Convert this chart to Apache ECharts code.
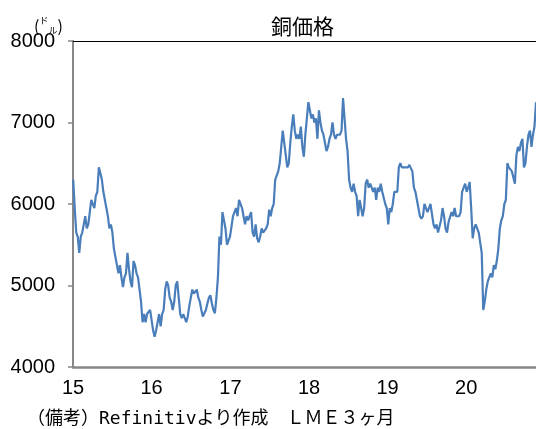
<!DOCTYPE html>
<html>
<head>
<meta charset="utf-8">
<script src="https://cdn.jsdelivr.net/npm/echarts@6/dist/echarts.min.js"></script>
<style>
  html, body { margin: 0; padding: 0; background: #fff; }
  #chart { width: 536px; height: 429px; }
</style>
</head>
<body>
<div id="chart"></div>
<script>
// LME copper 3M, weekly readings (USD/t)
const start2015 = '2015-01-02';
const copper2015 = [
  6300, 5950, 5650, 5600, 5400,
  5600, 5650, 5750, 5850,
  5700, 5750, 5900, 6050,
  6050, 5950, 6100, 6150,
  6450, 6380, 6300, 6150, 6050,
  5950, 5850, 5700, 5750,
  5650, 5450, 5350, 5250, 5150,
  5250, 5100, 4980, 5100,
  5150, 5400, 5200, 5050,
  4980, 5300, 5250, 5150, 5100,
  5100, 4800, 4550, 4650,
  4550, 4650, 4650, 4700
];
const start2016 = '2016-01-01';
const copper2016 = [
  4700, 4450, 4370, 4450, 4550,
  4650, 4500, 4650, 4700,
  4950, 5050, 5000, 4850,
  4800, 4700, 4800, 5000, 5050,
  4850, 4650, 4600, 4650,
  4600, 4550, 4620, 4750,
  4850, 4950, 4900, 4920, 4950,
  4850, 4800, 4700, 4620,
  4600, 4700, 4780, 4850, 4880,
  4780, 4700, 4660, 4850,
  5100, 5600, 5500, 5900,
  5800, 5700, 5500, 5550, 5600
];
const start2017 = '2017-01-06';
const copper2017 = [
  5600, 5850, 5850, 5950,
  5850, 6050, 6050, 5950,
  5850, 5750, 5850, 5800, 5850,
  5900, 5650, 5600, 5750,
  5580, 5530, 5600, 5700,
  5650, 5650, 5700, 5750, 5930,
  5850, 5950, 6000, 6300,
  6300, 6400, 6500, 6700,
  6900, 6750, 6600, 6450, 6500,
  6750, 6950, 7100, 6900,
  6800, 6850, 6800, 6950,
  6700, 6580, 6850, 7050, 7250
];
const start2018 = '2018-01-05';
const copper2018 = [
  7150, 7050, 7100, 7000,
  7050, 6800, 7150, 7000,
  6900, 6850, 6850, 6650, 6700,
  6800, 6850, 7000, 6850,
  6800, 6850, 6850, 6850,
  6900, 7300, 7050, 6800, 6650,
  6300, 6200, 6150, 6250,
  6150, 6100, 5850, 6050, 5950,
  5850, 5950, 6250, 6300,
  6200, 6250, 6200, 6150,
  6200, 6050, 6200, 6150, 6250,
  6150, 6150, 6000, 5950
];
const start2019 = '2019-01-04';
const copper2019 = [
  5750, 5950, 5900, 6000,
  6150, 6150, 6150, 6450,
  6500, 6450, 6450, 6450, 6450,
  6450, 6480, 6500, 6400,
  6200, 6150, 6050, 5950, 5850,
  5820, 5850, 6000, 5950,
  5900, 5950, 6000, 6000,
  5750, 5700, 5750, 5650, 5650,
  5800, 5950, 5850, 5700,
  5650, 5780, 5780, 5900,
  5850, 5950, 5850, 5850, 5850,
  5900, 6150, 6200, 6250
];
const start2020 = '2020-01-03';
const copper2020 = [
  6150, 6200, 6270, 5950, 5580,
  5700, 5750, 5750, 5650,
  5650, 5400, 4700, 4800,
  4950, 5050, 5100, 5150,
  5100, 5250, 5200, 5300, 5450,
  5700, 5800, 5850, 6000,
  6050, 6500, 6450, 6450, 6400,
  6400, 6250, 6600, 6700,
  6650, 6750, 6800, 6450,
  6500, 6700, 6850, 6900, 6700,
  6850, 6950, 7250
];

const yTicks = [4000, 5000, 6000, 7000, 8000];
const yearLabels = ['15', '16', '17', '18', '19', '20'];

const DAY = 86400000;
function weekly(startStr, vals) {
  const t0 = Date.parse(startStr + 'T00:00:00Z');
  return vals.map((v, i) => [t0 + i * 7 * DAY, v]);
}

const series = [].concat(
  weekly(start2015, copper2015),
  weekly(start2016, copper2016),
  weekly(start2017, copper2017),
  weekly(start2018, copper2018),
  weekly(start2019, copper2019),
  weekly(start2020, copper2020)
);

const xMin = Date.UTC(2015, 0, 1);
const xMax = series[series.length - 1][0];
const numFont = "'Liberation Sans', Arial, sans-serif";
const jpFont = "'Noto Sans CJK JP', sans-serif";

const chart = echarts.init(document.getElementById('chart'));
const option = {
  useUTC: true,
  animation: false,
  backgroundColor: '#fff',
  title: {
    text: '銅価格',
    left: 266,
    top: 11,
    textStyle: { fontFamily: jpFont, fontSize: 21, fontWeight: 'normal', color: '#000' }
  },
  graphic: [{
    type: 'text',
    left: 34,
    top: 16,
    style: {
      text: '{p|(}{a|ド}{b|ル}{p|)}',
      rich: {
        p: { fontFamily: jpFont, fontSize: 16, fill: '#000', lineHeight: 19 },
        a: { fontFamily: jpFont, fontSize: 9, fill: '#000', verticalAlign: 'top', lineHeight: 19 },
        b: { fontFamily: jpFont, fontSize: 9, fill: '#000', verticalAlign: 'bottom', lineHeight: 19 }
      }
    }
  }, {
    type: 'text',
    left: 27,
    top: 410,
    style: {
      text: '（備考）Refinitivより作成　ＬＭＥ３ヶ月',
      fontFamily: "'DejaVu Sans Mono', 'Noto Sans CJK JP', monospace",
      fontSize: 18,
      fill: '#000'
    }
  }],
  grid: { left: 73, right: 0, top: 41, bottom: 62, containLabel: false },
  xAxis: [{
    type: 'time',
    min: xMin,
    max: xMax,
    minInterval: 365 * DAY,
    maxInterval: 366 * DAY,
    axisLine: { lineStyle: { color: '#888', width: 2.5 } },
    axisTick: { show: false },
    splitLine: { show: false },
    axisLabel: {
      margin: 11,
      fontFamily: numFont,
      fontSize: 20,
      color: '#000',
      formatter: function (v) {
        const d = new Date(v);
        if (d.getUTCMonth() !== 0 || d.getUTCDate() !== 1) return '';
        const lab = String(d.getUTCFullYear()).slice(2);
        return yearLabels.indexOf(lab) >= 0 ? lab : '';
      }
    }
  }, {
    type: 'time',
    position: 'top',
    min: xMin,
    max: xMax,
    axisLine: { lineStyle: { color: '#000', width: 1.2 } },
    axisTick: { show: false },
    axisLabel: { show: false },
    splitLine: { show: false }
  }],
  yAxis: {
    type: 'value',
    min: yTicks[0],
    max: yTicks[yTicks.length - 1],
    interval: 1000,
    axisLine: { show: true, lineStyle: { color: '#888', width: 2 } },
    axisTick: { show: true, length: 5, lineStyle: { color: '#888', width: 1.5 } },
    splitLine: { show: false },
    axisLabel: {
      margin: 18,
      fontFamily: numFont,
      fontSize: 20,
      color: '#000',
      formatter: function (v) { return String(v); }
    }
  },
  series: [{
    type: 'line',
    data: series,
    showSymbol: false,
    symbol: 'none',
    lineStyle: { color: '#4a7ebb', width: 2.2 }
  }]
};
chart.setOption(option);
</script>
</body>
</html>
